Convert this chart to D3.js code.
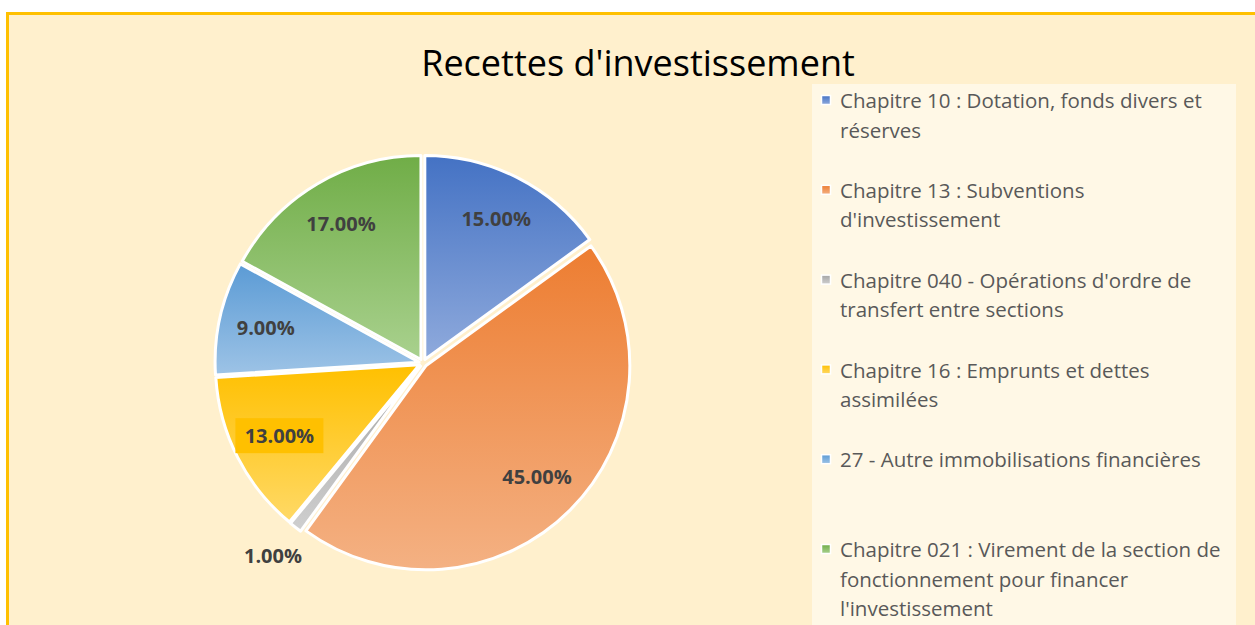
<!DOCTYPE html>
<html>
<head>
<meta charset="utf-8">
<script src="https://cdn.jsdelivr.net/npm/d3@7"></script>
<style>
  body { margin: 0; background: #fff; }
  svg { display: block; }
</style>
</head>
<body>
<svg id="chart"></svg>
<script>
    const categories = [
        "Chapitre 10 : Dotation, fonds divers et réserves",
        "Chapitre 13 : Subventions d'investissement",
        "Chapitre 040 - Opérations d'ordre de transfert entre sections",
        "Chapitre 16 : Emprunts et dettes assimilées",
        "27 - Autre immobilisations financières",
        "Chapitre 021 : Virement de la section de fonctionnement pour financer l'investissement"
    ];
    const legendLines = [
        ["Chapitre 10 : Dotation, fonds divers et", "réserves"],
        ["Chapitre 13 : Subventions", "d'investissement"],
        ["Chapitre 040 - Opérations d'ordre de", "transfert entre sections"],
        ["Chapitre 16 : Emprunts et dettes", "assimilées"],
        ["27 - Autre immobilisations financières"],
        ["Chapitre 021 : Virement de la section de", "fonctionnement pour financer", "l'investissement"]
    ];
    const values = [15, 45, 1, 13, 9, 17];
    const topColors = ["#4472C4", "#ED7D31", "#A5A5A5", "#FFC000", "#5B9BD5", "#70AD47"];
    const bottomColors = ["#8FAADC", "#F4B183", "#CFCFCF", "#FFD966", "#9DC3E6", "#A9D18E"];

    const width = 1255, height = 625;
    const svg = d3.select("#chart").attr("width", width).attr("height", height);

    // chart area with gold frame (top and left edges visible)
    svg.append("rect").attr("x", 0).attr("y", 0).attr("width", width).attr("height", height).attr("fill", "#fff");
    svg.append("rect")
        .attr("x", 7.5).attr("y", 13.5)
        .attr("width", width + 20).attr("height", height + 20)
        .attr("fill", "#FFF0CD")
        .attr("stroke", "#FFC000")
        .attr("stroke-width", 3);

    svg.append("text")
        .attr("x", 638)
        .attr("y", 76)
        .attr("text-anchor", "middle")
        .attr("font-family", "'Open Sans', sans-serif")
        .attr("font-size", "36px")
        .attr("fill", "#000")
        .text("Recettes d'investissement");

    const defs = svg.append("defs");
    topColors.forEach((c, i) => {
        const g = defs.append("linearGradient")
            .attr("id", "grad" + i)
            .attr("x1", 0).attr("y1", 0).attr("x2", 0).attr("y2", 1);
        g.append("stop").attr("offset", "0%").attr("stop-color", c);
        g.append("stop").attr("offset", "100%").attr("stop-color", bottomColors[i]);
    });

    // pie
    const cx = 423, cy = 363, radius = 204, explode = 4;
    const pie = d3.pie().sort(null).value(d => d);
    const arcs = pie(values);
    const arc = d3.arc().innerRadius(0).outerRadius(radius);
    const labelArc = d3.arc().innerRadius(radius * 0.79).outerRadius(radius * 0.79);
    const outerLabelArc = d3.arc().innerRadius(radius * 1.2).outerRadius(radius * 1.2);

    const pieG = svg.append("g").attr("transform", `translate(${cx},${cy})`);

    pieG.selectAll("path.slice")
        .data(arcs)
        .join("path")
        .attr("class", "slice")
        .attr("transform", d => {
            const a = (d.startAngle + d.endAngle) / 2;
            return `translate(${Math.sin(a) * explode},${-Math.cos(a) * explode})`;
        })
        .attr("d", arc)
        .attr("fill", (d, i) => `url(#grad${i})`)
        .attr("stroke", "#fff")
        .attr("stroke-width", 3)
        .attr("stroke-linejoin", "round");

    const labels = pieG.selectAll("g.lbl")
        .data(arcs)
        .join("g")
        .attr("class", "lbl")
        .attr("transform", d => {
            const p = d.data < 3 ? outerLabelArc.centroid(d) : labelArc.centroid(d);
            return `translate(${p[0]},${p[1]})`;
        });

    labels.filter((d, i) => i === 3)
        .append("rect")
        .attr("x", -44).attr("y", -18)
        .attr("width", 88).attr("height", 35)
        .attr("fill", "#FFC000");

    labels.append("text")
        .attr("text-anchor", "middle")
        .attr("dy", "0.35em")
        .attr("font-family", "'Open Sans', sans-serif")
        .attr("font-weight", "bold")
        .attr("font-size", "20px")
        .attr("fill", "#404040")
        .text(d => d.data.toFixed(2) + "%");

    // legend
    const legendX = 812, legendY = 84;
    svg.append("rect")
        .attr("x", legendX).attr("y", legendY)
        .attr("width", 424).attr("height", height - legendY + 10)
        .attr("fill", "#FFF8E6");

    const entryY = d3.scaleLinear().domain([0, categories.length - 1]).range([101, 550]);
    const lineH = 29.5;

    const entries = svg.selectAll("g.entry")
        .data(categories)
        .join("g")
        .attr("class", "entry")
        .attr("transform", (d, i) => `translate(${legendX}, ${entryY(i)})`);

    entries.append("rect")
        .attr("x", 9.5).attr("y", -5.5)
        .attr("width", 9).attr("height", 9)
        .attr("fill", (d, i) => `url(#grad${i})`)
        .attr("stroke", "#fff")
        .attr("stroke-width", 1.5);

    entries.each(function (d, i) {
        const t = d3.select(this).append("text")
            .attr("x", 28)
            .attr("font-family", "'Open Sans', sans-serif")
            .attr("font-size", "20.5px")
            .attr("fill", "#595959");
        legendLines[i].forEach((line, j) => {
            t.append("tspan")
                .attr("x", 28)
                .attr("y", j * lineH)
                .attr("dy", "0.35em")
                .text(line);
        });
    });
</script>
</body>
</html>
